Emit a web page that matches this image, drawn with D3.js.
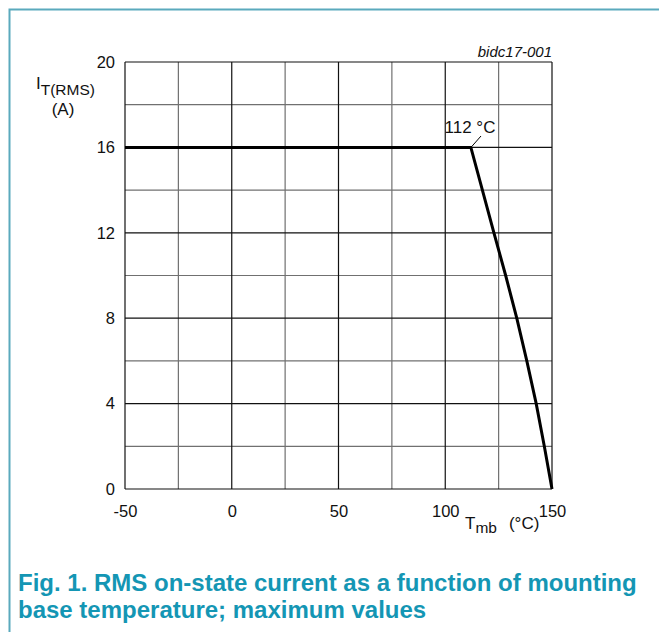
<!DOCTYPE html>
<html>
<head>
<meta charset="utf-8">
<script src="https://cdn.jsdelivr.net/npm/d3@7"></script>
<style>
  body { margin: 0; background: #fff; }
  text { font-family: "Liberation Sans", Arial, sans-serif; }
</style>
</head>
<body>
<div id="viz"></div>
<script>
const temps = [-50, 112, 117.4, 122.8, 128.3, 133.5, 138.2, 142.6, 146.4, 150];
const current = [16, 16, 14, 12, 10, 8, 6, 4, 2, 0];
const xTicks = [-50, 0, 50, 100, 150];
const yTicks = [0, 4, 8, 12, 16, 20];
const xMinor = [-25, 25, 75, 125];
const yMinor = [2, 6, 10, 14, 18];

const width = 659;
const height = 632;
const pLeft = 125, pRight = 552, pTop = 62, pBottom = 489;

const svg = d3.select('#viz')
      .append('svg')
      .attr('width', width)
      .attr('height', height);

// frame
svg.append('path')
    .attr('d', `M9.5,${height} V9.5 H${width}`)
    .attr('fill', 'none')
    .attr('stroke', '#5aaabd')
    .attr('stroke-width', 2);

const x = d3.scaleLinear().domain([-50, 150]).range([pLeft, pRight]);
const y = d3.scaleLinear().domain([0, 20]).range([pBottom, pTop]);

const grid = svg.append('g');

grid.selectAll('.vmin').data(xMinor).join('line')
    .attr('x1', d => x(d)).attr('x2', d => x(d))
    .attr('y1', pTop).attr('y2', pBottom)
    .attr('stroke', '#707070').attr('stroke-width', 1.2);

grid.selectAll('.hmin').data(yMinor).join('line')
    .attr('x1', pLeft).attr('x2', pRight)
    .attr('y1', d => y(d)).attr('y2', d => y(d))
    .attr('stroke', '#707070').attr('stroke-width', 1.2);

grid.selectAll('.vmaj').data(xTicks).join('line')
    .attr('x1', d => x(d)).attr('x2', d => x(d))
    .attr('y1', pTop).attr('y2', pBottom)
    .attr('stroke', '#111').attr('stroke-width', 1.2);

grid.selectAll('.hmaj').data(yTicks).join('line')
    .attr('x1', pLeft).attr('x2', pRight)
    .attr('y1', d => y(d)).attr('y2', d => y(d))
    .attr('stroke', '#111').attr('stroke-width', 1.2);

// tick labels via d3 axes, lines hidden
const fmt = d => String(d);
const xAxis = svg.append('g')
    .attr('transform', `translate(0,${pBottom})`)
    .call(d3.axisBottom(x).tickValues(xTicks).tickSize(0).tickPadding(16).tickFormat(fmt));
const yAxis = svg.append('g')
    .attr('transform', `translate(${pLeft},0)`)
    .call(d3.axisLeft(y).tickValues(yTicks).tickSize(0).tickPadding(10).tickFormat(fmt));
[xAxis, yAxis].forEach(a => {
  a.select('.domain').remove();
  a.selectAll('text')
    .style('font-family', '"Liberation Sans", Arial, sans-serif')
    .style('font-size', '16.5px')
    .attr('fill', '#111');
});

// curve
const line = d3.line()
    .x((d, i) => x(temps[i]))
    .y(d => y(d));
svg.append('path')
    .attr('d', line(current))
    .attr('fill', 'none')
    .attr('stroke', '#000')
    .attr('stroke-width', 3)
    .attr('stroke-linejoin', 'miter');

// annotation
svg.append('line')
    .attr('x1', x(112) + 1).attr('y1', y(16) - 1)
    .attr('x2', 481).attr('y2', 136)
    .attr('stroke', '#000').attr('stroke-width', 1);
svg.append('text')
    .attr('x', 470).attr('y', 133)
    .attr('text-anchor', 'middle')
    .style('font-size', '17px')
    .attr('fill', '#111')
    .text('112 °C');

svg.append('text')
    .attr('x', pRight).attr('y', 57)
    .attr('text-anchor', 'end')
    .style('font-size', '15px')
    .style('font-style', 'italic')
    .attr('fill', '#111')
    .text('bidc17-001');

// y label
const yl = svg.append('text')
    .attr('x', 36).attr('y', 89)
    .style('font-size', '17px')
    .attr('fill', '#111');
yl.append('tspan').text('I');
yl.append('tspan').attr('dy', 6).style('font-size', '15.5px').text('T(RMS)');
svg.append('text')
    .attr('x', 63).attr('y', 115)
    .attr('text-anchor', 'middle')
    .style('font-size', '17px')
    .attr('fill', '#111')
    .text('(A)');

// x label
const xl = svg.append('text')
    .attr('x', 465).attr('y', 529)
    .style('font-size', '17px')
    .attr('fill', '#111');
xl.append('tspan').text('T');
xl.append('tspan').attr('dy', 4).style('font-size', '15.5px').text('mb');
xl.append('tspan').attr('dy', -4).attr('dx', 12).text('(°C)');

// caption
const cap = ['Fig. 1. RMS on-state current as a function of mounting',
             'base temperature; maximum values'];
svg.selectAll('.cap').data(cap).join('text')
    .attr('x', 18)
    .attr('y', (d, i) => 591 + i * 27)
    .style('font-size', '24px')
    .style('font-weight', 'bold')
    .attr('fill', '#1496b4')
    .text(d => d);
</script>
</body>
</html>
